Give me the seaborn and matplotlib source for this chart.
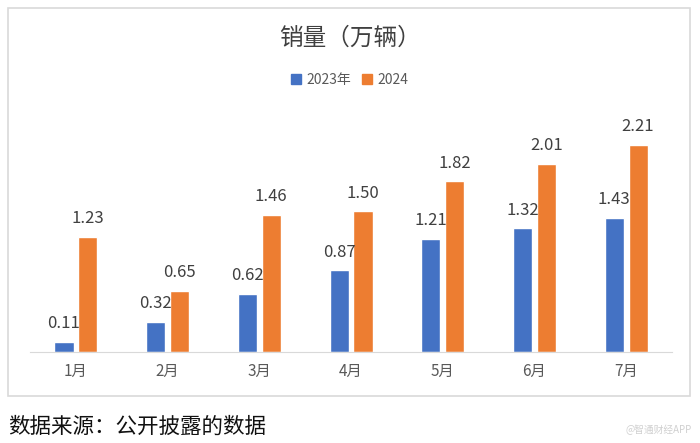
import pandas as pd
import matplotlib.pyplot as plt
import seaborn as sns
from matplotlib.patches import Rectangle

# data
months = ['1月', '2月', '3月', '4月', '5月', '6月', '7月']
sales_2023 = [0.11, 0.32, 0.62, 0.87, 1.21, 1.32, 1.43]
sales_2024 = [1.23, 0.65, 1.46, 1.50, 1.82, 2.01, 2.21]
series_names = ['2023年', '2024']
colors = ['#4472C4', '#ED7D31']

df = pd.DataFrame({
    'month': months * 2,
    'value': sales_2023 + sales_2024,
    'year': [series_names[0]] * len(months) + [series_names[1]] * len(months),
})

sns.set_style('white')
plt.rcParams['font.family'] = ['Noto Sans CJK SC', 'DejaVu Sans']

fig = plt.figure(figsize=(7, 4.43), dpi=100)
ax = fig.add_axes([0.043, 0.2054, 0.917, 0.55])

sns.barplot(data=df, x='month', y='value', hue='year', palette=colors,
            width=0.52, gap=0.2, ax=ax, legend=False, saturation=1)

for c in ax.containers:
    ax.bar_label(c, fmt='%.2f', padding=7, fontsize=12, color='#404040')

ax.set_ylim(0, 2.6)
ax.set_xlim(-0.5, 6.5)
ax.set_xlabel('')
ax.set_ylabel('')
ax.set_yticks([])
for s in ['top', 'right', 'left']:
    ax.spines[s].set_visible(False)
ax.spines['bottom'].set_color('#d9d9d9')
ax.tick_params(axis='x', length=0, labelsize=11, labelcolor='#595959', pad=8)

# title and legend
fig.text(0.5, 1 - 38 / 443, '销量（万辆）', ha='center', va='center', fontsize=17, color='#404040')
handles = [Rectangle((0, 0), 1, 1, color=col) for col in colors]
fig.legend(handles, series_names, loc='center', bbox_to_anchor=(0.5, 1 - 80 / 443), ncol=2,
           frameon=False, fontsize=10, handlelength=0.7, handleheight=0.7,
           handletextpad=0.4, columnspacing=0.8, labelcolor='#595959')

# chart border box
fig.patches.append(Rectangle((8 / 700, 1 - 396 / 443), 682 / 700, 388 / 443, transform=fig.transFigure,
                             fill=False, edgecolor='#d9d9d9', linewidth=1.2))

# source note + watermark
fig.text(8 / 700, 1 - 427 / 443, '数据来源：公开披露的数据', ha='left', va='center', fontsize=15.5, color='#111111')
fig.text(692 / 700, 1 - 430 / 443, '@智通财经APP', ha='right', va='center', fontsize=7, color='#d0d0d0')

plt.savefig('out.png', dpi=100)
